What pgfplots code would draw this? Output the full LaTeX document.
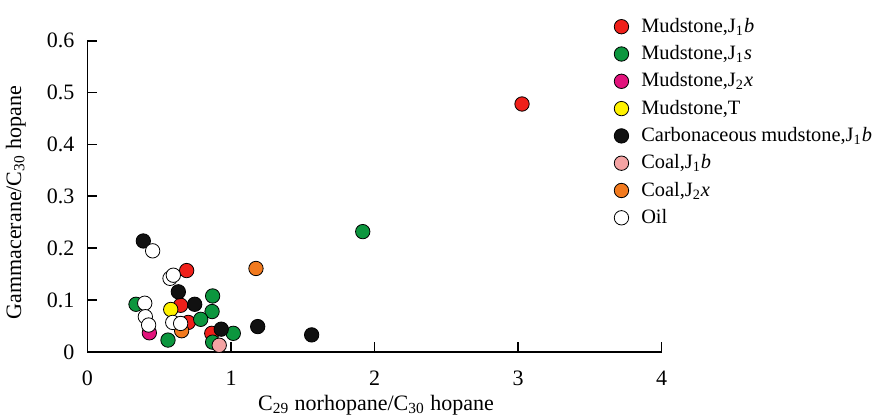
\documentclass[border=0pt]{standalone}
\usepackage{fontspec}
\setmainfont{Liberation Serif}
\usepackage{pgfplots}
\pgfplotsset{compat=1.18}
\definecolor{cRed}{HTML}{F0201A}
\definecolor{cGreen}{HTML}{0C963E}
\definecolor{cMag}{HTML}{E2137C}
\definecolor{cYel}{HTML}{FFF200}
\definecolor{cBlk}{HTML}{111111}
\definecolor{cPink}{HTML}{F4A3A3}
\definecolor{cOra}{HTML}{F27A1E}
\newcommand{\fs}{\fontsize{11}{13}\selectfont}
\newcommand{\lfs}{\fontsize{10.2}{12}\selectfont}
\begin{document}
\begin{tikzpicture}
\begin{axis}[
  at={(0,0)}, anchor=south west,
  scale only axis, width=287pt, height=155.65pt,
  xmin=0, xmax=4, ymin=0, ymax=0.6,
  axis x line*=bottom, axis y line*=left,
  axis line style={line width=0.9pt, -},
  xtick={0,1,2,3,4}, ytick={0,0.1,0.2,0.3,0.4,0.5,0.6},
  tick align=inside, major tick length=5pt,
  tick style={line width=0.9pt, black},
  /pgf/number format/assume math mode=true,
  yticklabel style={/pgf/number format/fixed, /pgf/number format/precision=1, font=\fs, xshift=-3pt},
  xticklabel style={font=\fs, yshift=-6pt},
  xlabel={C\textsubscript{29} norhopane/C\textsubscript{30} hopane},
  ylabel={Gammacerane/C\textsubscript{30} hopane},
  xlabel style={font=\fs, at={(axis description cs:0.5026,-0.17)}, anchor=center},
  ylabel style={font=\fs, at={(axis description cs:-0.125,0.48)}, anchor=center, rotate=0},
  clip=false,
  legend cell align=left,
  legend style={draw=none, fill=none, font=\lfs, at={(axis description cs:0.917,1.080)}, anchor=north west,
    inner sep=0pt, row sep=3.15pt, column sep=6.3pt,
    nodes={inner sep=0pt, text height=8pt, text depth=2.5pt}},
  legend image code/.code={\draw[#1] plot coordinates {(0.2cm,0cm)};},
  mark size=3.6pt,
  every axis plot/.append style={only marks, mark=*, mark options={draw=black!80, line width=0.4pt}},
]
\addplot[mark options={fill=cRed}] coordinates {(0.691,0.157) (0.649,0.090) (0.702,0.057) (0.866,0.036) (3.028,0.478)};
\addlegendentry{Mudstone,J\textsubscript{1}\textit{b}}
\addplot[mark options={fill=cGreen}] coordinates {(0.872,0.108) (0.338,0.092) (0.868,0.078) (0.789,0.063) (0.561,0.023) (1.016,0.036) (0.872,0.019) (1.918,0.232)};
\addlegendentry{Mudstone,J\textsubscript{1}\textit{s}}
\addplot[mark options={fill=cMag}] coordinates {(0.431,0.037)};
\addlegendentry{Mudstone,J\textsubscript{2}\textit{x}}
\addplot[mark options={fill=cYel}] coordinates {(0.580,0.082)};
\addlegendentry{Mudstone,T}
\addplot[mark options={fill=cBlk}] coordinates {(0.389,0.214) (0.633,0.116) (0.747,0.092) (0.932,0.044) (1.186,0.049) (1.562,0.033)};
\addlegendentry{\spaceskip=0.22em Carbonaceous mudstone,J\textsubscript{1}\textit{b}}
\addplot[mark options={fill=cPink}] coordinates {(0.918,0.013)};
\addlegendentry{Coal,J\textsubscript{1}\textit{b}}
\addplot[mark options={fill=cOra}] coordinates {(1.174,0.161) (0.656,0.041)};
\addlegendentry{Coal,J\textsubscript{2}\textit{x}}
\addplot[mark options={fill=white}] coordinates {(0.454,0.195) (0.575,0.142) (0.598,0.148) (0.399,0.094) (0.403,0.068) (0.426,0.052) (0.594,0.057) (0.649,0.055)};
\addlegendentry{Oil}
\end{axis}
\pgfresetboundingbox
\path (-43.75pt,-33pt) rectangle (392.25pt,176pt);
\end{tikzpicture}
\end{document}
